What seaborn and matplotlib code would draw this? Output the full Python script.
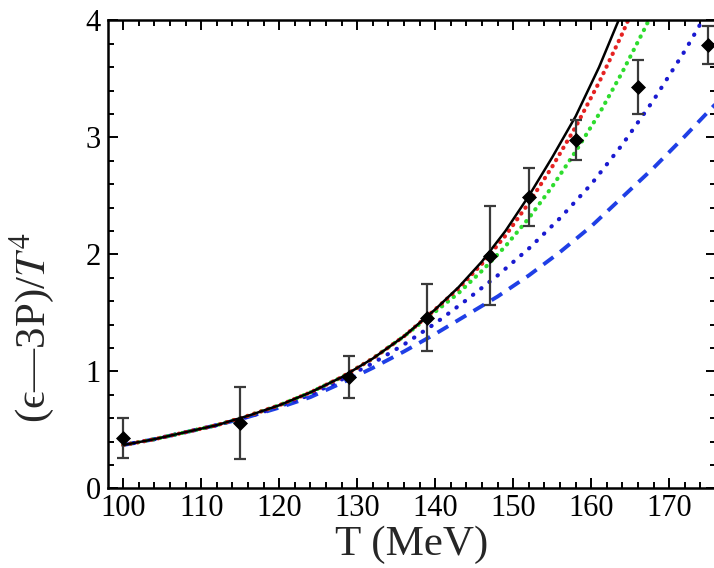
import numpy as np
import pandas as pd
import seaborn as sns
import matplotlib.pyplot as plt
from matplotlib.ticker import MultipleLocator

# lattice points with error bars
T_data = [100, 115, 129, 139, 147, 152, 158, 166, 175]
e3p_data = [0.43, 0.56, 0.95, 1.46, 1.99, 2.49, 2.98, 3.43, 3.79]
e3p_err = [0.17, 0.31, 0.18, 0.29, 0.42, 0.25, 0.17, 0.23, 0.16]

# model curves
T_low = [100, 104, 108, 112, 116, 120, 124, 128, 132, 136, 140]
v_low = [0.37, 0.42, 0.48, 0.54, 0.62, 0.71, 0.82, 0.95, 1.11, 1.30, 1.53]

T_black = T_low + [143, 146, 149, 152, 155, 158, 161, 164]
v_black = v_low + [1.72, 1.94, 2.20, 2.50, 2.83, 3.18, 3.60, 4.08]

T_red = T_low + [143, 146, 149, 152, 155, 158, 161, 164, 167]
v_red = v_low + [1.71, 1.92, 2.16, 2.44, 2.75, 3.09, 3.47, 3.89, 4.35]

T_green = T_low + [143, 146, 149, 152, 155, 158, 161, 164, 167, 170]
v_green = v_low[:-1] + [1.51, 1.67, 1.86, 2.07, 2.31, 2.58, 2.88, 3.20, 3.56, 3.95, 4.37]

T_blue = [100, 104, 108, 112, 116, 120, 124, 128, 132, 136, 140, 144, 148, 152, 156, 160,
          164, 168, 172, 176]
v_bdot = [0.37, 0.42, 0.48, 0.54, 0.61, 0.70, 0.80, 0.93, 1.07, 1.23, 1.41, 1.61, 1.82, 2.05,
          2.31, 2.60, 2.94, 3.32, 3.74, 4.20]
v_bdash = [0.37, 0.42, 0.48, 0.54, 0.61, 0.69, 0.78, 0.90, 1.03, 1.17, 1.32, 1.48, 1.64, 1.82,
           2.02, 2.24, 2.49, 2.74, 3.01, 3.29]

sns.set_theme(style='ticks')
plt.rcParams['font.family'] = ['Liberation Serif', 'DejaVu Serif']
plt.rcParams['mathtext.fontset'] = 'stix'

fig = plt.figure(figsize=(7.14, 5.68), dpi=100)
ax = fig.add_axes([108 / 714, 79.7 / 568, 608 / 714, 467.8 / 568])

# curves
sns.lineplot(x=T_blue, y=v_bdash, ax=ax, color='#1f3fe6', lw=2.8,
             linestyle=(0, (3.2, 2.2)), sort=False)
sns.lineplot(x=T_blue, y=v_bdot, ax=ax, color='#1a1ad0', lw=3.0,
             linestyle=(0, (0.1, 2.4)), dash_capstyle='round', sort=False)
sns.lineplot(x=T_green, y=v_green, ax=ax, color='#2edc2e', lw=3.0,
             linestyle=(0, (0.1, 1.7)), dash_capstyle='round', sort=False)
sns.lineplot(x=T_red, y=v_red, ax=ax, color='#e52222', lw=3.0,
             linestyle=(0, (0.1, 1.6)), dash_capstyle='round', sort=False)
sns.lineplot(x=T_black, y=v_black, ax=ax, color='black', lw=1.8, sort=False)

# data points
ax.errorbar(T_data, e3p_data, yerr=e3p_err, fmt='none', ecolor='#3a3a3a',
            elinewidth=1.6, capsize=4, capthick=1.6, zorder=4)
sns.scatterplot(x=T_data, y=e3p_data, ax=ax, marker='D', s=50, color='black',
                edgecolor='black', zorder=5)

ax.set_xlim(98.04, 176.0)
ax.set_ylim(0, 4)
ax.xaxis.set_major_locator(MultipleLocator(10))
ax.xaxis.set_minor_locator(MultipleLocator(2))
ax.yaxis.set_major_locator(MultipleLocator(1))
ax.yaxis.set_minor_locator(MultipleLocator(0.2))
ax.tick_params(which='both', direction='in', top=True, right=True, colors='black', width=1.4)
ax.tick_params(which='major', length=7, labelsize=22)
ax.tick_params(which='minor', length=4)
ax.tick_params(axis='x', pad=4)
ax.tick_params(axis='y', pad=5)
for s in ax.spines.values():
    s.set_linewidth(1.8)
    s.set_color('black')

ax.set_xlabel('T (MeV)', fontsize=31, labelpad=2)
ax.set_ylabel(r'(ϵ—3P)/$T^{4}$', fontsize=31)
ax.yaxis.set_label_coords(-0.085, 0.343)

plt.savefig('out.png', dpi=100)
